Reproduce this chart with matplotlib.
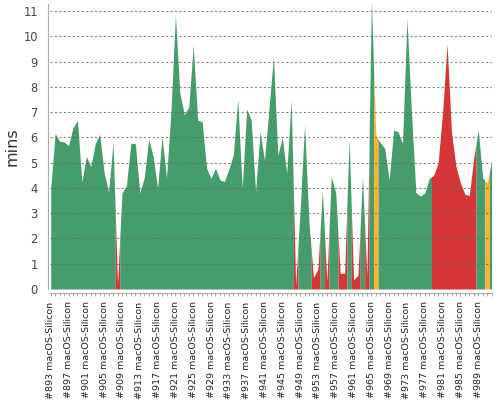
import numpy as np
import matplotlib
matplotlib.use("Agg")
import matplotlib.pyplot as plt

# build numbers and duration in minutes
builds = list(range(893, 993))
minutes = [
    4.0, 6.15, 5.85, 5.82, 5.68, 6.38, 6.68, 4.25, 5.25, 4.85,
    5.75, 6.12, 4.6, 3.85, 5.8, 0.2, 3.8, 4.1, 5.77, 5.75,
    3.8, 4.4, 5.95, 5.25, 4.0, 6.05, 4.4, 7.0, 10.85, 7.75,
    6.9, 7.2, 9.65, 6.68, 6.62, 4.78, 4.38, 4.78, 4.32, 4.25,
    4.75, 5.3, 7.5, 3.98, 7.12, 6.7, 3.85, 6.22, 5.1, 7.1,
    9.2, 5.3, 6.0, 4.58, 7.5, 0.15, 3.1, 6.5, 2.6, 0.45,
    0.8, 3.9, 0.3, 4.45, 3.8, 0.62, 0.62, 5.95, 0.36, 0.55,
    4.45, 0.5, 11.4, 6.1, 5.79, 5.57, 4.31, 6.29, 6.22, 5.77,
    10.7, 7.0, 3.81, 3.68, 3.8, 4.38, 4.5, 5.0, 7.0, 9.7,
    6.2, 4.85, 4.2, 3.75, 3.7, 5.2, 6.3, 4.4, 4.2, 5.05,
]
failed = [908, 948, 952, 953, 955, 958, 959, 961, 962, 964] + list(range(979, 989))
unstable = [966, 991]

colors = {"S": "#459d6c", "F": "#d63636", "U": "#feb12f"}

result = []
for b in builds:
    if b in failed:
        result.append("F")
    elif b in unstable:
        result.append("U")
    else:
        result.append("S")

idx = np.arange(len(builds))
vals = np.array(minutes)

fig = plt.figure(figsize=(5, 4), dpi=100)
ax = fig.add_axes([0.1, 0.2775, 0.8832, 0.7125])

# one polygon per run of same result, colour changes half way between builds
start = 0
for i in range(1, len(builds) + 1):
    if i == len(builds) or result[i] != result[start]:
        a, b = start, i - 1
        xs = np.concatenate([[max(a - 0.5, 0)], idx[a:b + 1], [min(b + 0.5, len(builds) - 1)]])
        ys = np.interp(xs, idx, vals)
        ax.fill_between(xs, 0, ys, color=colors[result[start]], lw=0, zorder=1)
        start = i

ax.set_xlim(-0.16, 99)
ax.set_ylim(0, 11.28)

ax.set_yticks(range(0, 12))
ax.yaxis.grid(True, color="#666666", lw=0.8, linestyle=(0, (2, 2)), alpha=0.8)
ax.set_axisbelow(False)
ax.tick_params(axis="y", length=0, pad=7, labelsize=8.3, labelcolor="#444444")

ax.set_xticks(idx, minor=True)
ax.set_xticks(idx[::4])
ax.tick_params(axis="x", which="both", length=2, width=0.6, color="#999999", pad=4)
ax.tick_params(axis="x", labelrotation=90, labelsize=6.8, labelcolor="#222222")
ax.set_xticklabels([f"#{b} macOS-Silicon" for b in builds[::4]])

for s in ["top", "right"]:
    ax.spines[s].set_visible(False)
ax.spines["left"].set_position(("outward", 1.7))
ax.spines["bottom"].set_position(("outward", 3))
ax.spines["left"].set_color("#aaaaaa")
ax.spines["bottom"].set_color("#aaaaaa")

ax.set_ylabel("mins", fontsize=11.5, color="#333333", labelpad=3)

fig.savefig("out.png", dpi=100)
